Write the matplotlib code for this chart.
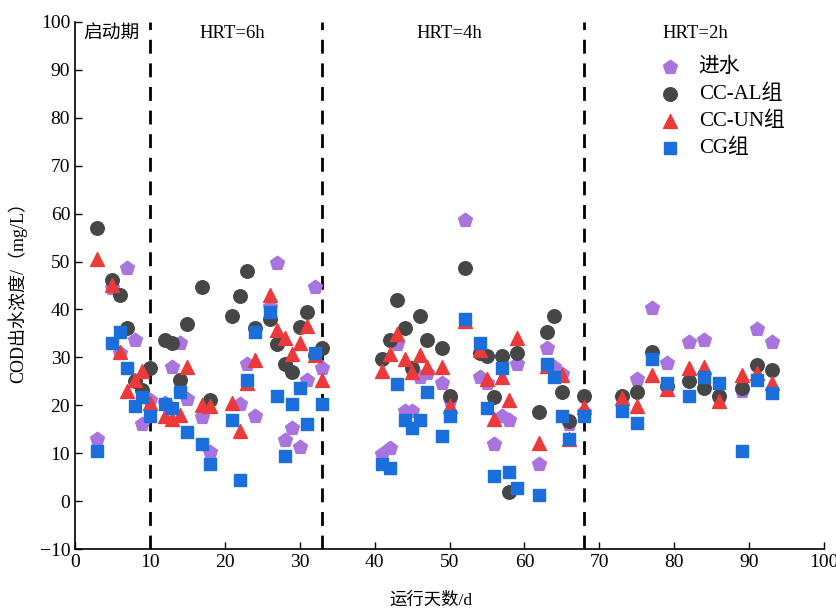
import matplotlib.pyplot as plt

plt.rcParams['font.family'] = ['Liberation Serif', 'Noto Sans CJK SC']
plt.rcParams['axes.unicode_minus'] = True

# 进水
days_in = [3, 5, 6, 7, 8, 9, 10, 12, 13, 14, 15, 17, 18, 22, 23, 24, 26, 27, 28, 29, 30, 31, 32, 33,
           41, 42, 43, 44, 45, 46, 47, 49, 50, 52, 54, 55, 56, 57, 58, 59, 62, 63, 64, 65, 66,
           68, 73, 75, 77, 79, 82, 84, 86, 89, 91, 93]
cod_in = [13, 44.5, 31, 48.6, 33.7, 16, 21, 20.5, 28, 33, 21.3, 17.6, 10.3, 20.3, 28.7, 17.8, 40.5, 49.6, 12.8, 15.3, 11.3, 25.3, 44.6, 27.7,
          9.8, 11, 32.8, 18.7, 18.7, 26, 26.7, 24.6, 21, 58.7, 26, 24.7, 12, 17.8, 17, 28.7, 7.8, 32, 28, 26.5, 16,
          18.5, 21.5, 25.4, 40.4, 28.8, 33.3, 33.6, 21.5, 23, 36, 33.2]

# CC-AL组
days_al = [3, 5, 6, 7, 8, 9, 10, 12, 13, 14, 15, 17, 18, 21, 22, 23, 24, 26, 27, 28, 29, 30, 31, 32, 33,
           41, 42, 43, 44, 45, 46, 47, 49, 50, 52, 54, 55, 56, 57, 58, 59, 62, 63, 64, 65, 66,
           68, 73, 75, 77, 79, 82, 84, 86, 89, 91, 93]
cod_al = [57, 46.2, 43, 36.2, 25, 23.2, 27.8, 33.7, 33, 25.3, 37, 44.6, 21, 38.7, 42.8, 48, 36.2, 38, 32.8, 28.7, 27, 36.3, 39.5, 30.5, 32,
          29.6, 33.7, 42, 36.2, 27.8, 38.7, 33.7, 32, 22, 48.7, 31, 30.3, 21.8, 30.3, 1.8, 31, 18.5, 35.3, 38.6, 22.7, 16.8,
          22, 22, 22.8, 31.2, 24, 25, 23.5, 22, 23.7, 28.5, 27.4]

# CC-UN组
days_un = [3, 5, 6, 7, 8, 9, 10, 12, 13, 14, 15, 17, 18, 21, 22, 23, 24, 26, 27, 28, 29, 30, 31, 32, 33,
           41, 42, 43, 44, 45, 46, 47, 49, 50, 52, 54, 55, 56, 57, 58, 59, 62, 63, 65, 66,
           68, 73, 75, 77, 79, 82, 84, 86, 89, 91, 93]
cod_un = [50.5, 45, 31.2, 23, 25.3, 27.2, 20.4, 17.8, 17.2, 18, 28, 20, 19.8, 20.5, 14.6, 24.6, 29.5, 43, 35.7, 34, 30.6, 32.9, 36.5, 30.5, 25.3,
          27.2, 30.7, 34.8, 29.7, 27, 30.5, 28, 28, 19.8, 37.5, 31.5, 25.4, 17.2, 26, 21.2, 34, 12.2, 28.2, 26.3, 13,
          19.7, 21.5, 19.8, 26.3, 23.3, 27.8, 28, 20.8, 26.3, 26.7, 24.6]

# CG组
days_cg = [3, 5, 6, 7, 8, 9, 10, 12, 13, 14, 15, 17, 18, 21, 22, 23, 24, 26, 27, 28, 29, 30, 31, 32, 33,
           41, 42, 43, 44, 45, 46, 47, 49, 50, 52, 54, 55, 56, 57, 58, 59, 62, 63, 64, 65, 66,
           68, 73, 75, 77, 79, 82, 84, 86, 89, 91, 93]
cod_cg = [10.5, 33, 35.3, 27.7, 19.9, 21.8, 17.7, 20.3, 19.5, 22.8, 14.5, 12, 7.8, 17, 4.5, 25.3, 35.3, 39.5, 22, 9.5, 20.3, 23.5, 16, 31, 20.3,
          7.8, 7, 24.5, 17, 15.3, 17, 22.8, 13.6, 17.7, 38, 33, 19.5, 5.3, 27.8, 6, 2.8, 1.2, 28.6, 26, 17.7, 13,
          17.8, 18.8, 16.3, 29.6, 24.6, 22, 26, 24.6, 10.5, 25.3, 22.6]

stage_bounds = [10, 33, 68]
stage_names = ['启动期', 'HRT=6h', 'HRT=4h', 'HRT=2h']
stage_x = [4.9, 21, 50, 82.8]

fig = plt.figure(figsize=(8.37, 6.1), dpi=100)
ax = fig.add_axes([0.0896, 0.1, 0.895, 0.864])

ax.scatter(days_in, cod_in, marker='p', s=110, color='#a974de', label='进水', zorder=3)
ax.scatter(days_al, cod_al, marker='o', s=95, color='#464646', label='CC-AL组', zorder=4)
ax.scatter(days_un, cod_un, marker='^', s=100, color='#ec3a3a', label='CC-UN组', zorder=5)
ax.scatter(days_cg, cod_cg, marker='s', s=70, color='#1a6fdc', label='CG组', zorder=6)

for b in stage_bounds:
    ax.axvline(b, color='black', lw=2, dashes=(5, 3.5), zorder=2)

for name, xs in zip(stage_names, stage_x):
    ax.text(xs, 97.6, name, ha='center', va='center', fontsize=13.5)

ax.set_xlim(0, 100)
ax.set_ylim(-10, 100)
ax.set_xticks(range(0, 101, 10))
ax.set_yticks(range(-10, 101, 10))
ax.tick_params(direction='in', labelsize=14, width=1, length=5)
for s in ['top', 'right']:
    ax.spines[s].set_visible(False)
for s in ['left', 'bottom']:
    ax.spines[s].set_linewidth(1.2)

# axis titles placed as in the source figure
fig.text(431 / 837, 1 - 601 / 610, '运行天数/d', ha='center', va='center', fontsize=12.5)
fig.text(17 / 837, 1 - 288 / 610, 'COD出水浓度/（mg/L）', ha='center', va='center',
         rotation=90, fontsize=13)

ax.legend(loc='upper left', bbox_to_anchor=(0.752, 0.968), frameon=False, fontsize=15,
          handletextpad=0.8, labelspacing=0.36, handlelength=1.2)

plt.savefig('out.png')
